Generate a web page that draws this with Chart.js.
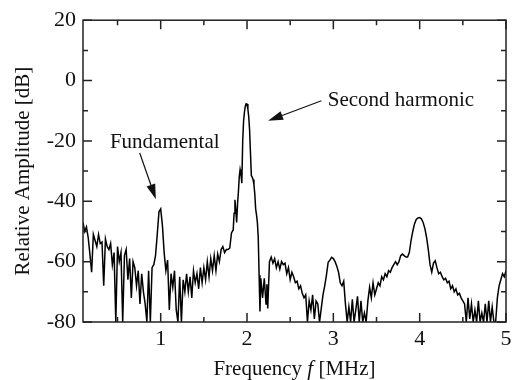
<!DOCTYPE html>
<html>
<head>
<meta charset="utf-8">
<script src="https://cdn.jsdelivr.net/npm/chart.js@4.4.1/dist/chart.umd.min.js"></script>
<style>
html, body { margin: 0; padding: 0; background: #fff; }
#wrap { width: 517px; height: 380px; }
</style>
</head>
<body>
<div id="wrap"><canvas id="spectrum" width="517" height="380"></canvas></div>
<script>
// spectrum: frequency [MHz] and relative amplitude [dB]
var freqMHz = [
	0.10, 0.12, 0.14, 0.16, 0.18, 0.20, 0.22, 0.24, 0.26, 0.28,
	0.30, 0.32, 0.34, 0.36, 0.38, 0.40, 0.42, 0.44, 0.46, 0.48,
	0.50, 0.52, 0.54, 0.56, 0.58, 0.60, 0.62, 0.64, 0.66, 0.68,
	0.70, 0.72, 0.74, 0.76, 0.78, 0.80, 0.82, 0.84, 0.86, 0.88,
	0.90, 0.92, 0.94, 0.96, 0.98, 1.00, 1.02, 1.04, 1.06, 1.08,
	1.10, 1.12, 1.14, 1.16, 1.18, 1.20, 1.22, 1.24, 1.26, 1.28,
	1.30, 1.32, 1.34, 1.36, 1.38, 1.40, 1.42, 1.44, 1.46, 1.48,
	1.50, 1.52, 1.54, 1.56, 1.58, 1.60, 1.62, 1.64, 1.66, 1.68,
	1.70, 1.72, 1.74, 1.76, 1.78, 1.80, 1.82,
	1.84, 1.85, 1.86, 1.87, 1.88, 1.89, 1.90, 1.91, 1.92, 1.93,
	1.94, 1.95, 1.96, 1.97, 1.98, 1.99, 2.00, 2.01, 2.02, 2.03,
	2.04, 2.05, 2.06, 2.07, 2.08, 2.09, 2.10, 2.11, 2.12, 2.13,
	2.14, 2.15, 2.16, 2.18, 2.20, 2.22, 2.23, 2.24,
	2.26, 2.28, 2.30, 2.32, 2.34, 2.36, 2.38, 2.40, 2.42, 2.44,
	2.46, 2.48, 2.50, 2.52, 2.54, 2.56, 2.58, 2.60, 2.62, 2.64,
	2.66, 2.68, 2.70, 2.72, 2.74, 2.76, 2.78, 2.80, 2.82, 2.84,
	2.86, 2.88, 2.90, 2.92, 2.94, 2.96, 2.98, 3.00, 3.02, 3.04,
	3.06, 3.08, 3.10, 3.12, 3.14, 3.16, 3.18, 3.20, 3.22, 3.24,
	3.26, 3.28, 3.30, 3.32, 3.34, 3.36, 3.38, 3.40, 3.42, 3.44,
	3.46, 3.48, 3.50, 3.52, 3.54, 3.56, 3.58, 3.60, 3.62, 3.64,
	3.66, 3.68, 3.70, 3.72, 3.74, 3.76, 3.78, 3.80, 3.82, 3.84,
	3.86, 3.88, 3.90, 3.92, 3.94, 3.96, 3.98, 4.00, 4.02, 4.04,
	4.06, 4.08, 4.10, 4.12, 4.14, 4.16, 4.18, 4.20, 4.22, 4.24,
	4.26, 4.28, 4.30, 4.32, 4.34, 4.36, 4.38, 4.40, 4.42, 4.44,
	4.46, 4.48, 4.50, 4.52, 4.54, 4.56, 4.58, 4.60, 4.62, 4.64,
	4.66, 4.68, 4.70, 4.72, 4.74, 4.76, 4.78, 4.80, 4.82, 4.84,
	4.86, 4.88, 4.90, 4.92, 4.94, 4.96, 4.98, 5.00
];
var amplitudeDb = [
	-47, -50, -48.5, -52, -57.5, -63.5, -51, -53, -55, -51,
	-54, -53.5, -68, -52.5, -55, -56, -54, -61, -57, -80,
	-55, -60, -57, -80, -58, -56, -66, -59, -72, -60,
	-62, -68, -63, -74, -64, -70, -74, -80, -63, -80,
	-62, -61, -58, -51, -43.5, -42.5, -48, -57, -63, -59.5,
	-76, -64, -68.5, -63, -76, -80, -65, -80, -66, -70,
	-64, -70, -65, -72, -63, -67, -64, -69, -62, -67,
	-62, -66, -60, -65, -59, -63, -58, -63, -57.5, -60,
	-56, -55, -57, -56, -56, -55.5, -50.5,
	-49.5, -44, -39.5, -43, -47, -41, -37, -32, -29.5, -31,
	-34, -20, -13.5, -10.5, -8.5, -7.7, -7.8, -9.5, -12, -16.5,
	-24, -31.5, -32, -32.8, -34.5, -37.5, -42.5, -44.5, -47, -52,
	-64.5, -76.5, -65.5, -72, -65.5, -74, -67.5, -75.5,
	-60, -58.5, -60.5, -59, -62, -60, -62.5, -60, -61, -60.5,
	-64, -62, -66, -63.5, -65, -67, -66.5, -69, -68, -70.5,
	-72, -71, -80, -73, -76, -71, -79, -73, -74, -80,
	-75.5, -71, -68, -64.5, -60.2, -59.5, -58.6, -59, -60, -61.5,
	-63.5, -67, -68, -66.5, -74, -80, -75, -80, -72.5, -80,
	-76, -71.5, -80, -73, -80, -77, -80, -73, -68.5, -72,
	-67, -71, -69, -67, -68, -65, -66, -64, -65, -63,
	-63.5, -62, -61, -60, -61, -60, -58, -57.5, -58, -58.5,
	-58.5, -57, -53, -50, -47.5, -46, -45.5, -45.4, -45.8, -47,
	-49, -52, -56, -61, -63.5, -60.5, -59.7, -62, -64, -63.5,
	-65, -66, -65.5, -67, -66.5, -69, -68, -70, -69, -71,
	-70.5, -72, -73, -74, -80, -72, -79, -74, -80, -76,
	-80, -73, -80, -77, -80, -74, -80, -73, -80, -75,
	-80, -80, -72, -68, -66, -64, -65, -63
];

var xTicks = [0.5, 1, 1.5, 2, 2.5, 3, 3.5, 4, 4.5, 5];
var yTicks = [-80, -70, -60, -50, -40, -30, -20, -10, 0, 10, 20];
var xLabels = ['1', '2', '3', '4', '5'];
var yLabels = ['-80', '-60', '-40', '-20', '0', '20'];

// annotation text + arrow, in data units (MHz, dB)
var notes = [
	{ text: 'Fundamental', at: [1.047, -22.3], align: 'center', from: [0.757, -24.0], to: [0.944, -39.3] },
	{ text: 'Second harmonic', at: [2.935, -8.35], align: 'left', from: [2.862, -6.7], to: [2.244, -13.3] }
];

var serif = '"Liberation Serif", "Times New Roman", serif';

var frame = {
	id: 'frame',
	afterDatasetsDraw: function(chart) {
		var ctx = chart.ctx, a = chart.chartArea;
		var x = chart.scales.x, y = chart.scales.y;
		ctx.save();
		ctx.strokeStyle = '#222';
		ctx.lineWidth = 1.5;
		ctx.beginPath();
		x.ticks.forEach(function(t) {
			var px = x.getPixelForValue(t.value);
			var len = Number.isInteger(t.value) ? 9 : 5;
			ctx.moveTo(px, a.bottom); ctx.lineTo(px, a.bottom - len);
			ctx.moveTo(px, a.top); ctx.lineTo(px, a.top + len);
		});
		y.ticks.forEach(function(t) {
			var py = y.getPixelForValue(t.value);
			var len = t.value % 20 === 0 ? 9 : 5;
			ctx.moveTo(a.left, py); ctx.lineTo(a.left + len, py);
			ctx.moveTo(a.right, py); ctx.lineTo(a.right - len, py);
		});
		ctx.stroke();
		ctx.strokeRect(a.left, a.top, a.right - a.left, a.bottom - a.top);

		// x axis title with italic f
		var parts = [['Frequency ', ''], ['f', 'italic '], [' [MHz]', '']];
		var total = 0;
		parts.forEach(function(p) {
			ctx.font = p[1] + '21px ' + serif;
			total += ctx.measureText(p[0]).width;
		});
		var tx = (a.left + a.right) / 2 - total / 2;
		ctx.fillStyle = '#111';
		ctx.textBaseline = 'alphabetic';
		ctx.textAlign = 'left';
		parts.forEach(function(p) {
			ctx.font = p[1] + '21px ' + serif;
			ctx.fillText(p[0], tx, 375);
			tx += ctx.measureText(p[0]).width;
		});
		ctx.restore();
	}
};

function arrow(ctx, x0, y0, x1, y1, head, halfW) {
	var ang = Math.atan2(y1 - y0, x1 - x0);
	var bx = x1 - head * Math.cos(ang), by = y1 - head * Math.sin(ang);
	ctx.beginPath();
	ctx.moveTo(x0, y0);
	ctx.lineTo(bx, by);
	ctx.stroke();
	ctx.beginPath();
	ctx.moveTo(x1, y1);
	ctx.lineTo(bx + halfW * Math.sin(ang), by - halfW * Math.cos(ang));
	ctx.lineTo(bx - halfW * Math.sin(ang), by + halfW * Math.cos(ang));
	ctx.closePath();
	ctx.fill();
}

var callouts = {
	id: 'callouts',
	afterDraw: function(chart) {
		var ctx = chart.ctx, x = chart.scales.x, y = chart.scales.y;
		ctx.save();
		ctx.fillStyle = '#111';
		ctx.strokeStyle = '#111';
		ctx.lineWidth = 1.2;
		ctx.font = '21px ' + serif;
		ctx.textBaseline = 'alphabetic';
		notes.forEach(function(n) {
			ctx.textAlign = n.align;
			ctx.fillText(n.text, x.getPixelForValue(n.at[0]), y.getPixelForValue(n.at[1]));
			arrow(ctx,
				x.getPixelForValue(n.from[0]), y.getPixelForValue(n.from[1]),
				x.getPixelForValue(n.to[0]), y.getPixelForValue(n.to[1]), 15, 4.5);
		});
		ctx.restore();
	}
};

var points = freqMHz.map(function(f, i) { return { x: f, y: amplitudeDb[i] }; });

var config = {
	type: 'line',
	data: {
		datasets: [{
			data: points,
			borderColor: '#000',
			borderWidth: 1.5,
			pointRadius: 0,
			tension: 0,
			fill: false
		}]
	},
	options: {
		responsive: false,
		animation: false,
		layout: { padding: { left: 0, right: 11, top: 18, bottom: 0 } },
		plugins: { legend: { display: false }, tooltip: { enabled: false } },
		scales: {
			x: {
				type: 'linear',
				min: 0.1,
				max: 5,
				afterBuildTicks: function(s) { s.ticks = xTicks.map(function(v) { return { value: v }; }); },
				afterFit: function(s) { s.height = 58; },
				grid: { display: false, drawTicks: false },
				border: { display: false },
				ticks: {
					padding: 4,
					color: '#111',
					font: { family: serif, size: 22 },
					maxRotation: 0,
					autoSkip: false,
					callback: function(v) { return xLabels.indexOf(String(v)) >= 0 ? String(v) : ''; }
				}
			},
			y: {
				min: -80,
				max: 20,
				afterBuildTicks: function(s) { s.ticks = yTicks.map(function(v) { return { value: v }; }); },
				afterFit: function(s) { s.width = 83; },
				grid: { display: false, drawTicks: false },
				border: { display: false },
				ticks: {
					padding: 7,
					color: '#111',
					font: { family: serif, size: 22 },
					autoSkip: false,
					callback: function(v) { return yLabels.indexOf(String(v)) >= 0 ? String(v) : ''; }
				},
				title: {
					display: true,
					text: 'Relative Amplitude [dB]',
					color: '#111',
					font: { family: serif, size: 21, lineHeight: 1 },
					padding: { top: 13, bottom: 0 }
				}
			}
		}
	},
	plugins: [frame, callouts]
};

var ctx = document.getElementById('spectrum').getContext('2d');
window.spectrumChart = new Chart(ctx, config);
</script>
</body>
</html>
